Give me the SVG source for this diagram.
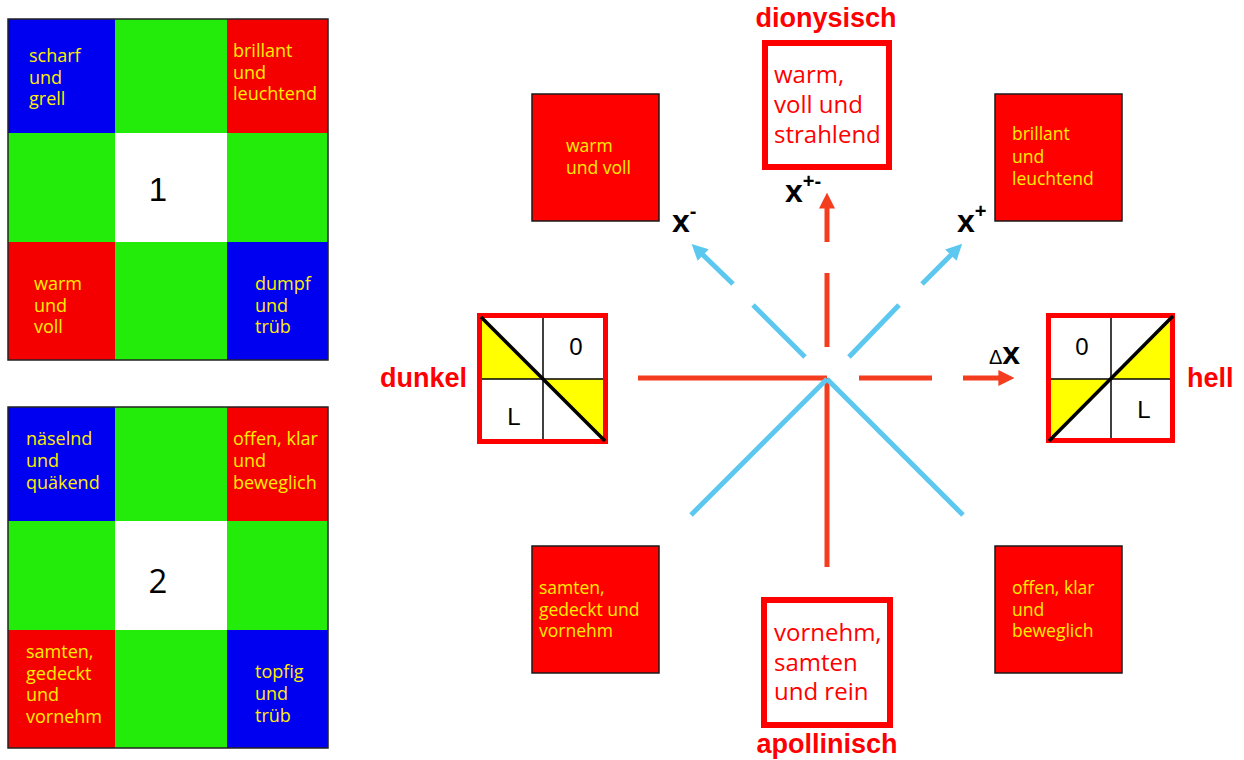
<svg xmlns="http://www.w3.org/2000/svg" width="1244" height="760" viewBox="0 0 1244 760">
  <style>
    .blue { fill: #0000f0; }
    .green { fill: #24ec0a; }
    .red { fill: #f40000; }
    .white { fill: #ffffff; }
    .cellText { font-family: "Open Sans", "DejaVu Sans", sans-serif; font-size: 18px; fill: #ffee00; }
    .boxText { font-family: "Open Sans", "DejaVu Sans", sans-serif; font-size: 17.5px; fill: #ffee00; }
    .bigText { font-family: "Open Sans", "DejaVu Sans", sans-serif; font-size: 24px; fill: #ff0000; }
    .pole { font-family: "Liberation Sans", Arial, sans-serif; font-size: 27px; font-weight: bold; fill: #ff0000; }
    .num { font-family: "Liberation Sans", Arial, sans-serif; font-size: 33px; fill: #000; text-anchor: middle; }
    .cellMark { font-family: "Liberation Sans", Arial, sans-serif; font-size: 24px; fill: #000; text-anchor: middle; }
    .xl { font-family: "Liberation Sans", Arial, sans-serif; font-size: 32px; font-weight: bold; fill: #000; }
    .sup { font-size: 20px; }
    .colorBox { fill: #ff0000; stroke: #1a1a1a; stroke-width: 1.5; }
    .frame { fill: #ffffff; stroke: #ff0000; stroke-width: 6; }
    .redLine { stroke: #f43c1e; stroke-width: 5; fill: none; }
    .blueLine { stroke: #5cc8f0; stroke-width: 5; fill: none; }
  </style>
  <defs>
    <marker id="headRed" viewBox="0 0 10 10" refX="1" refY="5" markerWidth="3.2" markerHeight="3.2" orient="auto" markerUnits="strokeWidth">
      <path d="M0,0 L10,5 L0,10 Z" fill="#f43c1e"/>
    </marker>
    <marker id="headBlue" viewBox="0 0 10 10" refX="1" refY="5" markerWidth="3.2" markerHeight="3.2" orient="auto" markerUnits="strokeWidth">
      <path d="M0,0 L10,5 L0,10 Z" fill="#5cc8f0"/>
    </marker>
  </defs>

  <rect width="1244" height="760" fill="#ffffff"/>

  <!-- Grid 1 -->
  <g id="grid1">
    <rect class="blue" x="8" y="19" width="107" height="114"/>
    <rect class="green" x="115" y="19" width="112" height="114"/>
    <rect class="red" x="227" y="19" width="101" height="114"/>
    <rect class="green" x="8" y="133" width="107" height="109"/>
    <rect class="white" x="115" y="133" width="112" height="109"/>
    <rect class="green" x="227" y="133" width="101" height="109"/>
    <rect class="red" x="8" y="242" width="107" height="118"/>
    <rect class="green" x="115" y="242" width="112" height="118"/>
    <rect class="blue" x="227" y="242" width="101" height="118"/>
    <rect x="8" y="19" width="320" height="341" fill="none" stroke="#222" stroke-width="1.5"/>
    <text class="cellText" x="29" y="62">scharf<tspan x="29" dy="21.5">und</tspan><tspan x="29" dy="21.5">grell</tspan></text>
    <text class="cellText" x="233" y="57">brillant<tspan x="233" dy="21.5">und</tspan><tspan x="233" dy="21.5">leuchtend</tspan></text>
    <text class="num" x="158" y="201">1</text>
    <text class="cellText" x="34" y="290">warm<tspan x="34" dy="21.5">und</tspan><tspan x="34" dy="21.5">voll</tspan></text>
    <text class="cellText" x="255" y="290">dumpf<tspan x="255" dy="21.5">und</tspan><tspan x="255" dy="21.5">trüb</tspan></text>
  </g>

  <!-- Grid 2 -->
  <g id="grid2">
    <rect class="blue" x="8" y="407" width="107" height="114"/>
    <rect class="green" x="115" y="407" width="112" height="114"/>
    <rect class="red" x="227" y="407" width="101" height="114"/>
    <rect class="green" x="8" y="521" width="107" height="109"/>
    <rect class="white" x="115" y="521" width="112" height="109"/>
    <rect class="green" x="227" y="521" width="101" height="109"/>
    <rect class="red" x="8" y="630" width="107" height="118"/>
    <rect class="green" x="115" y="630" width="112" height="118"/>
    <rect class="blue" x="227" y="630" width="101" height="118"/>
    <rect x="8" y="407" width="320" height="341" fill="none" stroke="#222" stroke-width="1.5"/>
    <text class="cellText" x="26" y="445">näselnd<tspan x="26" dy="22">und</tspan><tspan x="26" dy="22">quäkend</tspan></text>
    <text class="cellText" x="233" y="445">offen, klar<tspan x="233" dy="22">und</tspan><tspan x="233" dy="22">beweglich</tspan></text>
    <text class="num" x="158" y="593" style="font-family:'Open Sans','DejaVu Sans',sans-serif">2</text>
    <text class="cellText" x="26" y="658">samten,<tspan x="26" dy="21.7">gedeckt</tspan><tspan x="26" dy="21.7">und</tspan><tspan x="26" dy="21.7">vornehm</tspan></text>
    <text class="cellText" x="255" y="678">topfig<tspan x="255" dy="22">und</tspan><tspan x="255" dy="22">trüb</tspan></text>
  </g>

  <!-- Connectors -->
  <g id="connectors">
    <!-- horizontal axis -->
    <line class="redLine" x1="638" y1="378" x2="827" y2="378"/>
    <line class="redLine" x1="859" y1="378" x2="932" y2="378"/>
    <line class="redLine" x1="963" y1="378" x2="1000" y2="378" marker-end="url(#headRed)"/>
    <!-- vertical axis -->
    <line class="redLine" x1="827" y1="378" x2="827" y2="567"/>
    <line class="redLine" x1="827" y1="347" x2="827" y2="273"/>
    <line class="redLine" x1="827" y1="242" x2="827" y2="207" marker-end="url(#headRed)"/>
    <!-- diagonals -->
    <line class="blueLine" x1="827" y1="379" x2="691" y2="515"/>
    <line class="blueLine" x1="827" y1="379" x2="963" y2="515"/>
    <line class="blueLine" x1="805" y1="357" x2="753" y2="305"/>
    <line class="blueLine" x1="733" y1="284" x2="702" y2="254" marker-end="url(#headBlue)"/>
    <line class="blueLine" x1="849" y1="357" x2="899" y2="305"/>
    <line class="blueLine" x1="922" y1="284" x2="952" y2="254" marker-end="url(#headBlue)"/>
  </g>

  <!-- Axis labels -->
  <g id="axisLabels">
    <text class="xl" x="672" y="232">x<tspan class="sup" dy="-14">-</tspan></text>
    <text class="xl" x="785" y="202">x<tspan class="sup" dy="-14">+-</tspan></text>
    <text class="xl" x="957" y="232">x<tspan class="sup" dy="-14">+</tspan></text>
    <text x="989" y="364" style="font-family:'Liberation Sans',Arial,sans-serif;font-size:20px;fill:#000">Δ<tspan style="font-size:32px;font-weight:bold">x</tspan></text>
  </g>

  <!-- dionysisch -->
  <g id="dionysisch">
    <text class="pole" x="826" y="27" text-anchor="middle">dionysisch</text>
    <rect class="frame" x="765" y="43" width="124" height="124"/>
    <text class="bigText" x="774" y="83">warm,<tspan x="774" dy="30">voll und</tspan><tspan x="774" dy="30">strahlend</tspan></text>
  </g>

  <!-- apollinisch -->
  <g id="apollinisch">
    <rect class="frame" x="764" y="600" width="126" height="125"/>
    <text class="bigText" x="774" y="641">vornehm,<tspan x="774" dy="29.5">samten</tspan><tspan x="774" dy="29.5">und rein</tspan></text>
    <text class="pole" x="827" y="753" text-anchor="middle">apollinisch</text>
  </g>

  <!-- corner boxes -->
  <g id="warmVoll">
    <rect class="colorBox" x="532" y="94" width="127" height="127"/>
    <text class="boxText" x="566" y="152">warm<tspan x="566" dy="21.5">und voll</tspan></text>
  </g>
  <g id="brillant">
    <rect class="colorBox" x="995" y="94" width="127" height="127"/>
    <text class="boxText" x="1012" y="140">brillant<tspan x="1012" dy="22.5">und</tspan><tspan x="1012" dy="22.5">leuchtend</tspan></text>
  </g>
  <g id="samten">
    <rect class="colorBox" x="532" y="546" width="127" height="127"/>
    <text class="boxText" x="539" y="594">samten,<tspan x="539" dy="21.5">gedeckt und</tspan><tspan x="539" dy="21.5">vornehm</tspan></text>
  </g>
  <g id="offen">
    <rect class="colorBox" x="995" y="546" width="127" height="127"/>
    <text class="boxText" x="1012" y="594">offen, klar<tspan x="1012" dy="21.5">und</tspan><tspan x="1012" dy="21.5">beweglich</tspan></text>
  </g>

  <!-- dunkel -->
  <g id="dunkel">
    <text class="pole" x="467" y="387" text-anchor="end">dunkel</text>
    <rect x="479.5" y="315.5" width="126" height="126" fill="#fff" stroke="#ff0000" stroke-width="5"/>
    <polygon points="482,318 482,379 543,379" fill="#ffff00"/>
    <polygon points="543,379 603,379 603,439" fill="#ffff00"/>
    <line x1="543" y1="318" x2="543" y2="439" stroke="#000" stroke-width="1.5"/>
    <line x1="482" y1="379" x2="603" y2="379" stroke="#000" stroke-width="1.5"/>
    <line x1="481" y1="317" x2="605" y2="441" stroke="#000" stroke-width="3.5"/>
    <text class="cellMark" x="576" y="355">0</text>
    <text class="cellMark" x="514" y="425">L</text>
  </g>

  <!-- hell -->
  <g id="hell">
    <rect x="1048.5" y="315.5" width="124" height="125" fill="#fff" stroke="#ff0000" stroke-width="5"/>
    <polygon points="1051,379 1111,379 1051,438" fill="#ffff00"/>
    <polygon points="1111,379 1170,379 1170,318" fill="#ffff00"/>
    <line x1="1111" y1="318" x2="1111" y2="438" stroke="#000" stroke-width="1.5"/>
    <line x1="1051" y1="379" x2="1170" y2="379" stroke="#000" stroke-width="1.5"/>
    <line x1="1049" y1="441" x2="1173" y2="316" stroke="#000" stroke-width="3.5"/>
    <text class="cellMark" x="1082" y="355">0</text>
    <text class="cellMark" x="1144" y="418">L</text>
    <text class="pole" x="1187" y="387">hell</text>
  </g>
</svg>
